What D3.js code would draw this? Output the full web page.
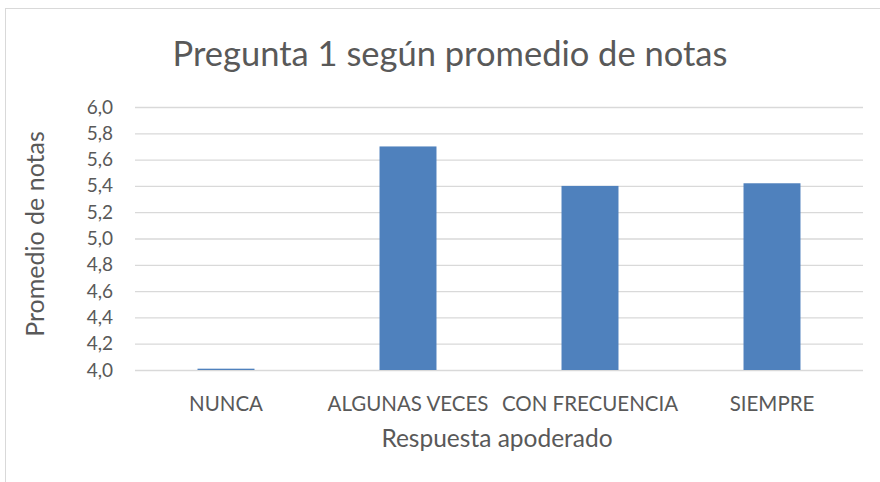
<!DOCTYPE html>
<html>
<head>
<meta charset="utf-8">
<script src="https://cdn.jsdelivr.net/npm/d3@7"></script>
<style>
  body { margin: 0; background: #fff; }
  text { font-family: Lato, "Open Sans", sans-serif; fill: #595959; }
</style>
</head>
<body>
<svg id="chart" width="880" height="482"></svg>
<script>
// data
const categories = ["NUNCA", "ALGUNAS VECES", "CON FRECUENCIA", "SIEMPRE"];
const values = [4.01, 5.70, 5.40, 5.42];
const yTicks = [4.0, 4.2, 4.4, 4.6, 4.8, 5.0, 5.2, 5.4, 5.6, 5.8, 6.0];

const svg = d3.select("#chart");

// outer chart frame (cut off at right/bottom like the screenshot)
svg.append("rect")
  .attr("x", 5.5).attr("y", 8.5)
  .attr("width", 900).attr("height", 500)
  .attr("fill", "#fff")
  .attr("stroke", "#d9d9d9");

const x = d3.scaleBand()
  .domain(categories)
  .range([135, 863])
  .paddingInner(0.687)
  .paddingOuter(0.3435);

const y = d3.scaleLinear()
  .domain([4, 6])
  .range([370, 107]);

const fmt = v => d3.format(".1f")(v).replace(".", ",");

// gridlines + tick labels
const yAxis = d3.axisLeft(y)
  .tickValues(yTicks)
  .tickSize(-(863 - 135))
  .tickPadding(22)
  .tickFormat(fmt);

const gy = svg.append("g")
  .attr("transform", "translate(135,0)")
  .call(yAxis);
gy.select(".domain").remove();
gy.selectAll(".tick line").attr("stroke", "#d9d9d9").attr("stroke-width", 1.3);
gy.selectAll(".tick text")
  .attr("x", -22)
  .style("font-size", "19px")
  .style("fill", "#595959");

// bars
svg.append("g").selectAll("rect")
  .data(values)
  .join("rect")
  .attr("x", (d, i) => x(categories[i]))
  .attr("width", x.bandwidth())
  .attr("y", d => y(d))
  .attr("height", d => y(4) - y(d))
  .attr("fill", "#4f81bd");

// category labels
const xAxis = d3.axisBottom(x).tickSize(0).tickPadding(26);
const gx = svg.append("g")
  .attr("transform", "translate(0,370)")
  .call(xAxis);
gx.select(".domain").remove();
gx.selectAll(".tick text")
  .style("font-size", "20.5px")
  .style("fill", "#595959");

// titles
svg.append("text")
  .attr("x", 450).attr("y", 66)
  .attr("text-anchor", "middle")
  .style("font-size", "34.5px")
  .text("Pregunta 1 según promedio de notas");

svg.append("text")
  .attr("x", 497).attr("y", 447)
  .attr("text-anchor", "middle")
  .style("font-size", "24.5px")
  .text("Respuesta apoderado");

svg.append("text")
  .attr("transform", "translate(44,234) rotate(-90)")
  .attr("text-anchor", "middle")
  .style("font-size", "25px")
  .text("Promedio de notas");
</script>
</body>
</html>
